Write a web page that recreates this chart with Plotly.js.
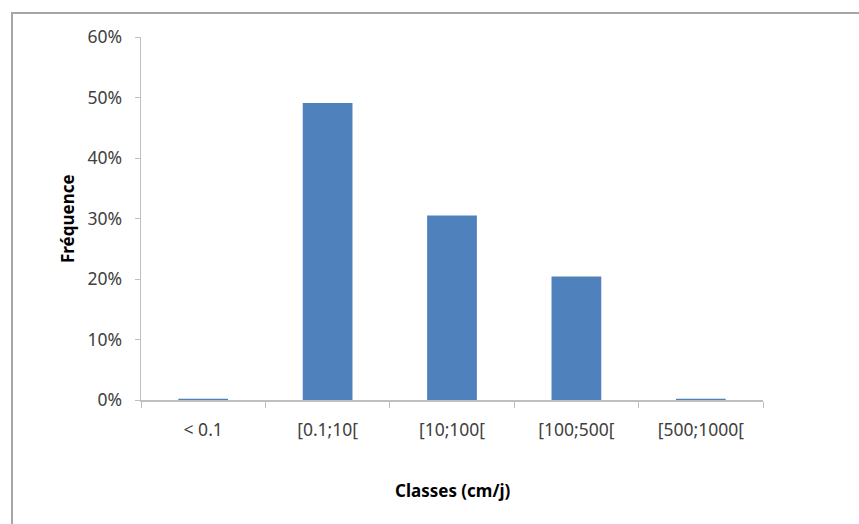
<!DOCTYPE html>
<html><head><meta charset="utf-8">
<script src="https://cdn.plot.ly/plotly-3.0.1.min.js"></script>
<style>html,body{margin:0;padding:0;background:#fff;}#chart{width:859px;height:524px;}</style>
</head><body><div id="chart"></div>
<script>
const categories = ["< 0.1", "[0.1;10[", "[10;100[", "[100;500[", "[500;1000["];
const frequencies = [0.002, 0.491, 0.305, 0.204, 0.002];
const yTickValues = [0, 0.1, 0.2, 0.3, 0.4, 0.5, 0.6];
const yTickLabels = ["0%", "10%", "20%", "30%", "40%", "50%", "60%"];
const xTitle = "Classes (cm/j)";
const yTitle = "Fréquence";

const L = 141, R = 96, T = 37, B = 124;
const W = 859, H = 524;
const pw = W - L - R, ph = H - T - B;
const px = v => (v - L) / pw;
const py = v => (H - B - v) / ph;

const data = [{
  type: 'bar', x: categories, y: frequencies,
  marker: {color: '#4F81BD'}, hoverinfo: 'skip'
}];
const fam = 'Noto Sans, Open Sans, sans-serif';
const axisFont = {family: fam, size: 17.5, color: '#404040'};
const titleFont = {family: fam, size: 17, color: '#000', weight: 'bold'};
const layout = {
  width: W, height: H,
  margin: {l: L, r: R, t: T, b: B, pad: 0},
  paper_bgcolor: '#fff', plot_bgcolor: '#fff',
  bargap: 0.6, showlegend: false,
  xaxis: {
    type: 'category', tickson: 'boundaries', ticks: 'outside', ticklen: 6,
    tickcolor: '#bfbfbf', showline: true, linecolor: '#bfbfbf', linewidth: 1.5,
    showgrid: false, zeroline: false, tickfont: axisFont, ticklabelstandoff: 13,
    automargin: false
  },
  yaxis: {
    range: [0, 0.6], tickvals: yTickValues, ticktext: yTickLabels,
    ticks: 'outside', ticklen: 5, tickcolor: '#bfbfbf',
    showline: true, linecolor: '#bfbfbf', linewidth: 1.5,
    showgrid: false, zeroline: false, tickfont: axisFont, ticklabelstandoff: 9,
    automargin: false
  },
  annotations: [
    {xref: 'paper', yref: 'paper', x: px(453), y: py(490), text: xTitle, showarrow: false, font: titleFont, xanchor: 'center', yanchor: 'middle'},
    {xref: 'paper', yref: 'paper', x: px(68), y: py(219), text: yTitle, showarrow: false, font: titleFont, textangle: -90, xanchor: 'center', yanchor: 'middle'}
  ],
  shapes: [
    {type: 'line', xref: 'paper', yref: 'paper', x0: px(12), x1: px(12), y0: py(H + 5), y1: py(12), line: {color: '#a6a6a6', width: 2}},
    {type: 'line', xref: 'paper', yref: 'paper', x0: px(11), x1: px(W + 5), y0: py(13), y1: py(13), line: {color: '#a6a6a6', width: 2}}
  ]
};
Plotly.newPlot('chart', data, layout, {staticPlot: true});
</script></body></html>
